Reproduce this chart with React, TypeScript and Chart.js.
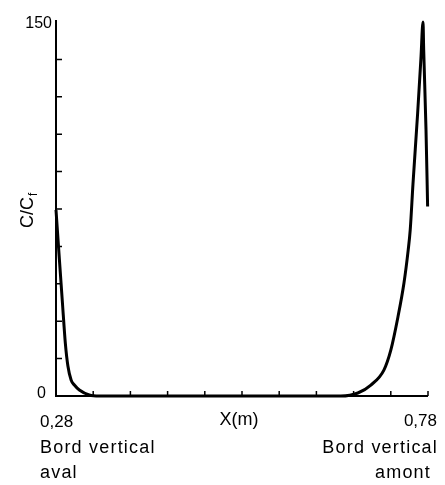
import React, { useEffect, useRef } from "react";
import { Chart, registerables } from "chart.js";

Chart.register(...registerables);

// Position along the tank (m)
const xValues = [
  0.28, 0.2845, 0.2885, 0.2926, 0.296, 0.3003, 0.3047, 0.3114, 0.3248, 0.3383,
  0.5, 0.6628, 0.6857, 0.7032, 0.7207, 0.7301, 0.7396, 0.7477, 0.7534, 0.7561,
  0.7598, 0.7661, 0.7706, 0.7733, 0.7742, 0.7773, 0.7795,
];
// Relative concentration C/Cf
const cValues = [
  74.6, 55, 38, 21, 12, 6.4, 4.4, 2.4, 0.4, 0,
  0, 0, 1.2, 4.4, 10.4, 18.5, 31.7, 45.3, 58.6, 66.6,
  85, 113.5, 136, 150, 139, 107, 76,
];

const xTicks = [0.28, 0.33, 0.38, 0.43, 0.48, 0.53, 0.58, 0.63, 0.68, 0.73, 0.78];
const yTicks = [0, 15, 30, 45, 60, 75, 90, 105, 120, 135, 150];
const xEndLabels = ["0,28", "0,78"];
const yEndLabels = ["0", "150"];
const xTitle = "X(m)";
const yTitle = "C/C";
const yTitleSub = "f";
const leftCaption = ["Bord vertical", "aval"];
const rightCaption = ["Bord vertical", "amont"];

const FONT = '"Liberation Sans", Arial, Helvetica, sans-serif';

const axesPlugin = {
  id: "customAxes",
  beforeDatasetsDraw(chart: any) {
    const { ctx, chartArea, scales } = chart;
    const xs = scales.x;
    const ys = scales.y;
    const left = chartArea.left;
    const bottom = chartArea.bottom;
    ctx.save();
    ctx.strokeStyle = "#000";
    ctx.lineWidth = 2;
    ctx.beginPath();
    ctx.moveTo(left, chartArea.top - 2);
    ctx.lineTo(left, bottom);
    ctx.lineTo(chartArea.right, bottom);
    ctx.stroke();
    ctx.lineWidth = 1.5;
    ctx.beginPath();
    xTicks.forEach((v, i) => {
      if (i === 0) return;
      const px = xs.getPixelForValue(v);
      ctx.moveTo(px, bottom);
      ctx.lineTo(px, bottom - 5);
    });
    yTicks.forEach((v, i) => {
      if (i === 0 || i === yTicks.length - 1) return;
      const py = ys.getPixelForValue(v);
      ctx.moveTo(left, py);
      ctx.lineTo(left + 6, py);
    });
    ctx.stroke();
    ctx.restore();
  },
  afterDraw(chart: any) {
    const { ctx, chartArea, scales } = chart;
    const xs = scales.x;
    const ys = scales.y;
    ctx.save();
    ctx.fillStyle = "#000";
    // y end labels
    ctx.font = `16px ${FONT}`;
    ctx.textAlign = "right";
    ctx.textBaseline = "middle";
    ctx.fillText(yEndLabels[0], chartArea.left - 10, ys.getPixelForValue(yTicks[0]) - 2);
    ctx.fillText(yEndLabels[1], chartArea.left - 4, ys.getPixelForValue(yTicks[yTicks.length - 1]) + 2);
    // x end labels
    ctx.font = `17px ${FONT}`;
    ctx.textBaseline = "alphabetic";
    ctx.textAlign = "left";
    ctx.fillText(xEndLabels[0], xs.getPixelForValue(xTicks[0]) - 16, chartArea.bottom + 31);
    ctx.textAlign = "right";
    ctx.fillText(xEndLabels[1], xs.getPixelForValue(xTicks[xTicks.length - 1]) + 9, chartArea.bottom + 30);
    // x title
    ctx.font = `18px ${FONT}`;
    ctx.textAlign = "center";
    ctx.fillText(xTitle, 239, chartArea.bottom + 29);
    // captions
    ctx.font = `18px ${FONT}`;
    (ctx as any).letterSpacing = "1.2px";
    ctx.textAlign = "left";
    ctx.fillText(leftCaption[0], 40, chartArea.bottom + 57);
    ctx.fillText(leftCaption[1], 40, chartArea.bottom + 82);
    ctx.textAlign = "right";
    ctx.fillText(rightCaption[0], 438, chartArea.bottom + 57);
    ctx.fillText(rightCaption[1], 431, chartArea.bottom + 82);
    (ctx as any).letterSpacing = "0px";
    // y title rotated
    ctx.translate(33, 228);
    ctx.rotate(-Math.PI / 2);
    ctx.textAlign = "left";
    ctx.textBaseline = "alphabetic";
    ctx.font = `18px ${FONT}`;
    ctx.fillText(yTitle, 0, 0);
    const w = ctx.measureText(yTitle).width;
    ctx.font = `12px ${FONT}`;
    ctx.fillText(yTitleSub, w + 1, 4);
    ctx.restore();
  },
};

export default function App() {
  const ref = useRef<HTMLCanvasElement | null>(null);
  useEffect(() => {
    if (!ref.current) return;
    const chart = new Chart(ref.current, {
      type: "line",
      data: {
        datasets: [
          {
            data: xValues.map((x, i) => ({ x, y: cValues[i] })),
            borderColor: "#000",
            borderWidth: 3,
            pointRadius: 0,
            fill: false,
            cubicInterpolationMode: "monotone",
            clip: false as any,
          },
        ],
      },
      options: {
        responsive: false,
        animation: false,
        layout: { padding: { left: 56, right: 17, top: 22, bottom: 89 } },
        plugins: { legend: { display: false }, tooltip: { enabled: false } },
        scales: {
          x: { type: "linear", min: xTicks[0], max: xTicks[xTicks.length - 1], display: false },
          y: { type: "linear", min: yTicks[0], max: yTicks[yTicks.length - 1], display: false },
        },
      },
      plugins: [axesPlugin],
    });
    return () => chart.destroy();
  }, []);
  return (
    <div style={{ position: "absolute", left: 0, top: 0, width: 445, height: 485, background: "#fff" }}>
      <canvas ref={ref} width={445} height={485} style={{ display: "block" }} />
    </div>
  );
}
